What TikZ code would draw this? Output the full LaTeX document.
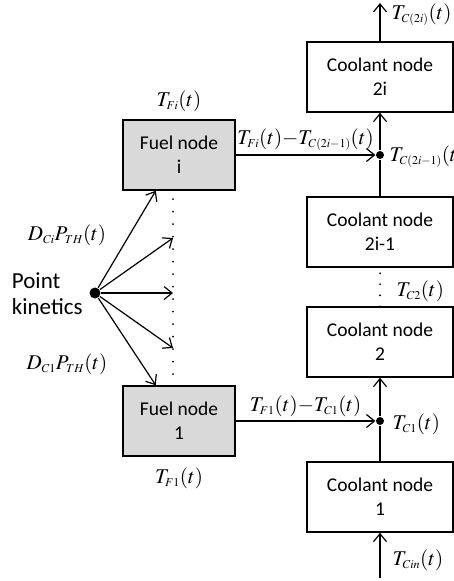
\documentclass[tikz,border=0pt]{standalone}
\usepackage{mathptmx}
\usepackage[no-math]{fontspec}
\setmainfont{Carlito}
\DeclareMathSizes{21}{21}{12}{9}
\usetikzlibrary{arrows.meta}

\begin{document}
\begin{tikzpicture}[x=1pt,y=-1pt,line width=1.2pt,>={Straight Barb[length=8pt,width=13pt]},
  box/.style={draw,line width=1.5pt,minimum height=70pt,align=center,font=\fontsize{19.5}{24}\selectfont},
  fuelbox/.style={box,fill=gray!30,minimum width=112pt}, coolbox/.style={box,minimum width=146pt},
  lab/.style={font=\fontsize{21}{24}\selectfont,inner sep=1pt},
  jdot/.style={circle,fill,inner sep=0pt,minimum size=8pt},
  dotline/.style={line width=2pt,line cap=round,dash pattern=on 0pt off 12.5pt}]
\useasboundingbox (0,0) rectangle (454,581);
% fuel side
\node[fuelbox] (fi) at (179,155) {Fuel node\\i}; \node[fuelbox] (f1) at (179,421) {Fuel node\\1};
\node[lab] (tfi) at (179,101) {$T_{Fi}(t)$}; \node[lab] (tf1) at (179,478) {$T_{F1}(t)$};
\draw[dotline] (173,199) -- (173,386);
\node[jdot,minimum size=11pt] (pk) at (95,293) {};
\node[anchor=west,align=left,font=\fontsize{23}{26}\selectfont] (pktext) at (8,294) {Point\\kinetics};
\node[lab] (dci) at (67,235) {$D_{Ci}P_{TH}(t)$}; \node[lab] (dc1) at (67,364) {$D_{C1}P_{TH}(t)$};
\coordinate (p1) at (173,238); \coordinate (p2) at (173,293); \coordinate (p3) at (173,348);
\draw[->] (pk) -- (fi.237); \draw[->] (pk) -- (p1); \draw[->] (pk) -- (p2); \draw[->] (pk) -- (p3); \draw[->] (pk) -- (f1.123);
% coolant channel
\node[coolbox] (c1) at (380,497) {Coolant node\\1}; \node[coolbox] (c2) at (380,342) {Coolant node\\2};
\node[coolbox] (c3) at (380,232) {Coolant node\\2i-1}; \node[coolbox] (c4) at (380,77) {Coolant node\\2i};
\node[jdot] (j1) at (380,421) {}; \node[jdot] (j2) at (380,155) {};
\coordinate (cin) at (380,578); \coordinate (cout) at (380,3);
\draw[->] (cin) -- (c1); \draw (c1) -- (j1); \draw[->] (j1) -- (c2); \draw[dotline,dash pattern=on 0pt off 11pt] (c2.north) -- (c3.south);
\draw (c3) -- (j2); \draw[->] (j2) -- (c4); \draw[->] (c4) -- (cout);
\draw[->] (f1) -- node[lab,above=3pt] {$T_{F1}(t){-}T_{C1}(t)$} (j1);
\draw[->] (fi) -- node[lab,above=3pt] {$T_{Fi}(t){-}T_{C(2i-1)}(t)$} (j2);
\node[lab,anchor=west] (tcin) at (391,560) {$T_{Cin}(t)$}; \node[lab,anchor=west] (tc1) at (391,424) {$T_{C1}(t)$};
\node[lab,anchor=west] (tc2) at (395,291) {$T_{C2}(t)$}; \node[lab,anchor=west] (tc3) at (388,157) {$T_{C(2i-1)}(t)$};
\node[lab,anchor=west] (tc4) at (390,15) {$T_{C(2i)}(t)$};
\end{tikzpicture}
\end{document}
